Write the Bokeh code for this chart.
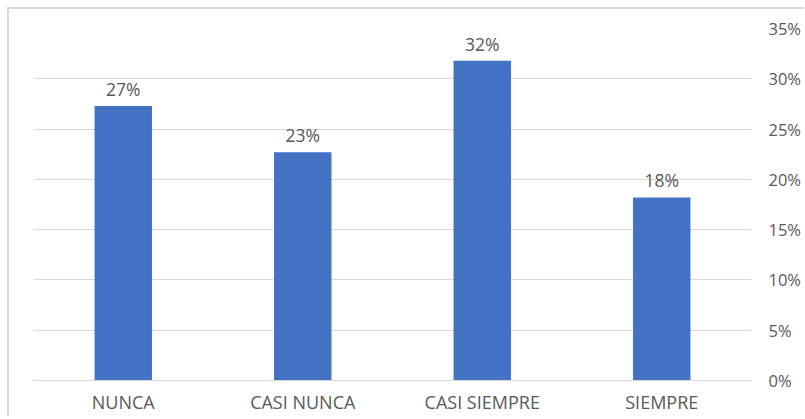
from bokeh.plotting import figure
from bokeh.models import ColumnDataSource, LinearAxis, FixedTicker, NumeralTickFormatter, Range1d
from bokeh.core.properties import value
from bokeh.embed import file_html
from bokeh.resources import INLINE

categories = ["NUNCA", "CASI NUNCA", "CASI SIEMPRE", "SIEMPRE"]
values = [0.273, 0.227, 0.318, 0.182]
tick_values = [0, 0.05, 0.10, 0.15, 0.20, 0.25, 0.30, 0.35]

labels = [f"{round(v * 100)}%" for v in values]
src = ColumnDataSource(dict(cat=categories, val=values, lab=labels))

FONT = "Open Sans"
TXT = "#595959"

p = figure(x_range=categories, y_range=Range1d(0, 0.35),
           frame_width=718, frame_height=352,
           min_border_left=24, min_border_top=19, min_border_right=38, min_border_bottom=28,
           output_backend="svg", toolbar_location=None, y_axis_location=None)
p.styles = {"border-left": "2px solid #d9d9d9", "border-top": "2px solid #d9d9d9",
            "margin-left": "7px", "margin-top": "7px"}
p.outline_line_color = None
p.background_fill_color = "white"
p.border_fill_color = "white"

p.vbar(x="cat", top="val", width=0.32, source=src, fill_color="#4472C4", line_color=None)

p.text(x="cat", y="val", text="lab", source=src, text_align="center", text_baseline="bottom",
       y_offset=-5, text_font=value(FONT), text_font_size="17.5px", text_color=TXT)

yax = LinearAxis(ticker=FixedTicker(ticks=tick_values),
                 formatter=NumeralTickFormatter(format="0%"))
yax.axis_line_color = None
yax.major_tick_line_color = None
yax.minor_tick_line_color = None
yax.major_label_text_font = FONT
yax.major_label_text_font_size = "16.5px"
yax.major_label_text_color = TXT
yax.major_label_standoff = 11
p.add_layout(yax, "right")

p.ygrid.ticker = FixedTicker(ticks=tick_values)
p.ygrid.grid_line_color = "#d9d9d9"
p.xgrid.grid_line_color = None

xa = p.xaxis[0]
xa.axis_line_color = "#d9d9d9"
xa.major_tick_line_color = None
xa.minor_tick_line_color = None
xa.major_label_text_font = FONT
xa.major_label_text_font_size = "18px"
xa.major_label_text_color = TXT
xa.major_label_standoff = 3

open("out.html", "w").write(file_html(p, INLINE))
